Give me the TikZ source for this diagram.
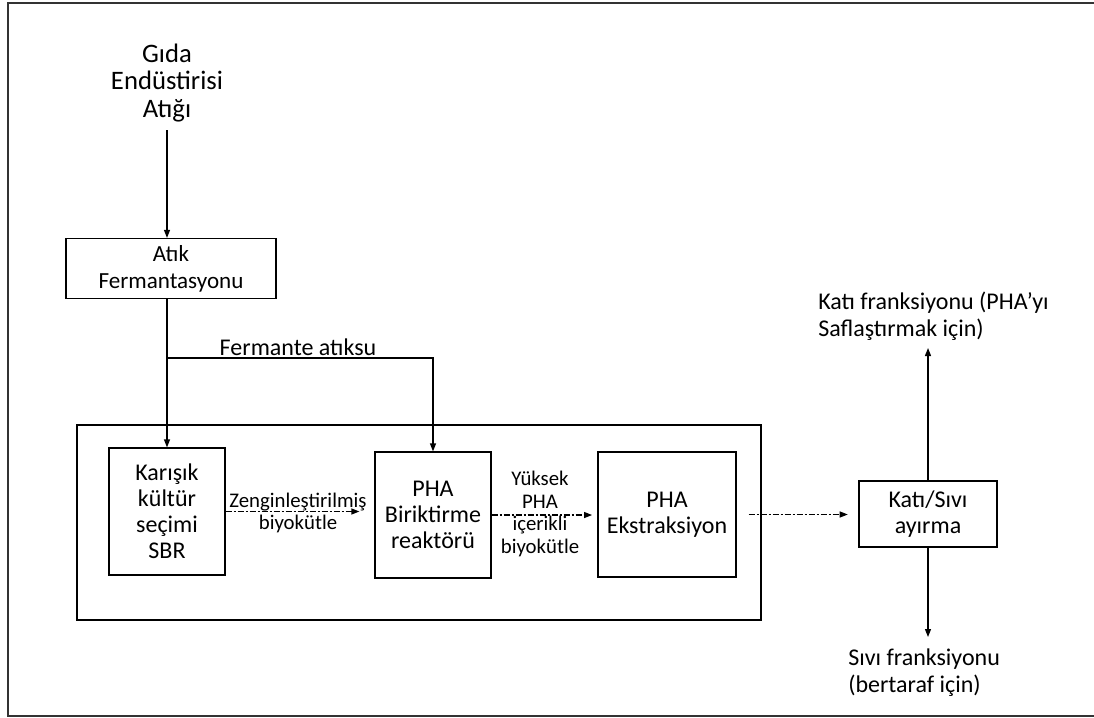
\documentclass[tikz,border=0pt]{standalone}
\usepackage{fontspec}
\setmainfont{Carlito}
\usetikzlibrary{arrows.meta}

\tikzset{
  kutu/.style={draw,line width=0.9pt,align=center,inner sep=0pt,font=\fontsize{18}{19.5}\selectfont},
  yazi/.style={align=center,inner sep=0pt,font=\fontsize{18}{20.25}\selectfont},
  etiket/.style={align=center,inner sep=0pt,font=\fontsize{15.6}{17}\selectfont},
  akis/.style={->,line width=0.9pt},
  kesik/.style={->,line width=0.9pt,dash pattern=on 4.5pt off 1.5pt on 1.5pt off 1.5pt},
}

\begin{document}
\begin{tikzpicture}[x=0.75pt,y=-0.75pt,>={Triangle[length=6pt,width=4.5pt]}]
  \useasboundingbox (0,0) rectangle (1094,717);
  % cerceve
  \draw[line width=1.1pt,black!80] (1094,3) -- (8,3) -- (8,716) -- (1094,716);

  % kaynak ve fermantasyon
  \node[yazi,font=\fontsize{20}{20.5}\selectfont] (gida) at (167,83) {Gıda\\Endüstirisi\\Atığı};
  \node[kutu,font=\fontsize{17.3}{20.25}\selectfont,minimum width=157.5pt,minimum height=45pt] (ferm) at (171,268.5) {Atık\\Fermantasyonu};

  % reaktor birimi
  \node[draw,line width=0.9pt,minimum width=513pt,minimum height=146.25pt] (birim) at (419,522.5) {};
  \node[kutu,minimum width=87pt,minimum height=95.25pt] (sbr) at (167,511.5) {Karışık\\kültür\\seçimi\\SBR};
  \node[kutu,minimum width=87pt,minimum height=94.5pt] (pha) at (433,515) {PHA\\Biriktirme\\reaktörü};
  \node[kutu,minimum width=103.5pt,minimum height=93.75pt] (ekst) at (667,514.5) {PHA\\Ekstraksiyon};

  % ayirma
  \node[kutu,minimum width=103.5pt,minimum height=49.5pt] (ayir) at (928,514) {Katı/Sıvı\\ayırma};
  \node[yazi,align=left,anchor=west] (katifr) at (818,316) {Katı franksiyonu (PHA’yı\\Saflaştırmak için)};
  \node[yazi,align=left,anchor=west] (sivifr) at (848,673) {Sıvı franksiyonu\\(bertaraf için)};

  % etiketler
  \node[yazi] (fermsu) at (298,347) {Fermante atıksu};
  \node[etiket] (zengin) at (298,513) {Zenginleştirilmiş\\biyokütle};
  \node[etiket] (yuksek) at (540,514) {Yüksek\\PHA\\içerikli\\biyokütle};

  \coordinate (dal) at (167,358);
  \coordinate (katiuc) at (928,348);
  \coordinate (siviuc) at (928,637);

  % baglantilar
  \draw[akis,shorten <=6pt] (gida.south) -- (gida.south |- ferm.north);
  \draw[akis] (ferm.south -| sbr.north) -- (sbr.north);
  \draw[akis] (dal) -| (pha.north);
  \draw[kesik,shorten >=11.25pt] (sbr.east) -- (pha.west |- sbr.east);
  \draw[kesik,shorten >=4pt] (pha.east) -- (ekst.west |- pha.east);
  \draw[kesik,shorten <=9pt,shorten >=8pt] (ekst.east) -- (ayir.west |- ekst.east);
  \draw[akis] (ayir.north) -- (katiuc);
  \draw[akis] (ayir.south) -- (siviuc);
\end{tikzpicture}
\end{document}
